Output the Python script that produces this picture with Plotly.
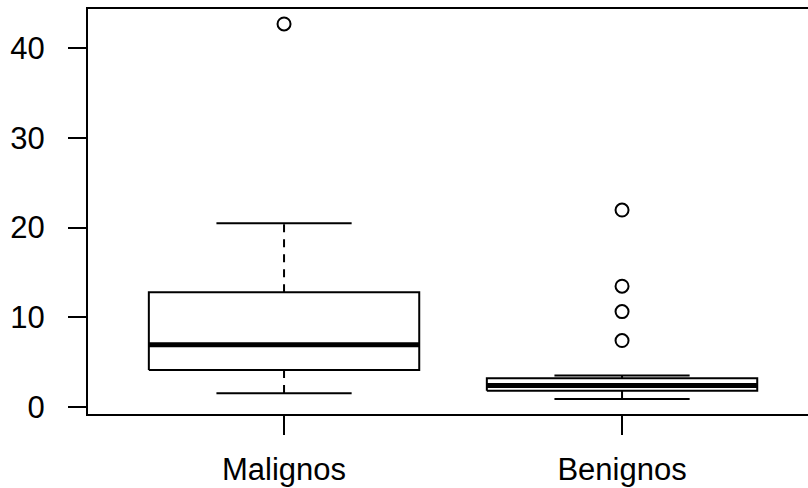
import plotly.graph_objects as go

categories = ["Malignos", "Benignos"]
lower_whisker = [1.52, 0.86]
q1 = [4.12, 1.78]
median = [6.91, 2.37]
q3 = [12.78, 3.20]
upper_whisker = [20.47, 3.49]
outliers = [[42.7], [21.95, 13.45, 10.62, 7.39]]
y_ticks = [0, 10, 20, 30, 40]

BOX_HALF = 0.4
STAPLE_HALF = 0.2
LW = 2
COL = "#000000"

fig = go.Figure()
for i, name in enumerate(categories):
    x = i + 1
    # box rectangle
    fig.add_trace(go.Scatter(
        x=[x - BOX_HALF, x + BOX_HALF, x + BOX_HALF, x - BOX_HALF, x - BOX_HALF],
        y=[q1[i], q1[i], q3[i], q3[i], q1[i]],
        mode="lines", line=dict(color=COL, width=LW), fill="toself",
        fillcolor="white", hoverinfo="skip", showlegend=False))
    # whiskers (dashed)
    fig.add_trace(go.Scatter(
        x=[x, x, None, x, x],
        y=[q3[i], upper_whisker[i], None, q1[i], lower_whisker[i]],
        mode="lines", line=dict(color=COL, width=LW, dash="8px,7px"),
        hoverinfo="skip", showlegend=False))
    # staples
    fig.add_trace(go.Scatter(
        x=[x - STAPLE_HALF, x + STAPLE_HALF, None, x - STAPLE_HALF, x + STAPLE_HALF],
        y=[upper_whisker[i], upper_whisker[i], None, lower_whisker[i], lower_whisker[i]],
        mode="lines", line=dict(color=COL, width=LW),
        hoverinfo="skip", showlegend=False))
    # median
    fig.add_trace(go.Scatter(
        x=[x - BOX_HALF, x + BOX_HALF], y=[median[i], median[i]],
        mode="lines", line=dict(color=COL, width=5),
        hoverinfo="skip", showlegend=False))
    # outliers
    fig.add_trace(go.Scatter(
        x=[x] * len(outliers[i]), y=outliers[i], mode="markers",
        marker=dict(symbol="circle-open", size=13, color=COL, line=dict(width=LW)),
        showlegend=False))

tick_font = dict(family="Liberation Sans, Arial, sans-serif", size=31, color="#000000")

fig.update_layout(
    width=808, height=488,
    margin=dict(l=88, r=0, t=9, b=74),
    paper_bgcolor="white", plot_bgcolor="white",
    font=tick_font,
    xaxis=dict(range=[0.42, 0.42 + 720 / 338], tickvals=[1, 2], ticktext=categories,
               showgrid=False, zeroline=False, showline=True, mirror=True,
               linecolor=COL, linewidth=LW, ticks="outside", ticklen=19,
               tickwidth=LW, tickcolor=COL, ticklabelstandoff=8, tickfont=tick_font,
               automargin=False),
    yaxis=dict(range=[-0.8, 44.37], tickvals=y_ticks,
               showgrid=False, zeroline=False, showline=True, mirror=False,
               linecolor=COL, linewidth=LW, ticks="outside", ticklen=18,
               tickwidth=LW, tickcolor=COL, ticklabelstandoff=17, tickfont=tick_font,
               automargin=False),
)

fig.write_html(
    "out.html",
    config={"displayModeBar": False},
    post_script="document.body.style.margin='0';document.documentElement.style.overflow='hidden';",
)
